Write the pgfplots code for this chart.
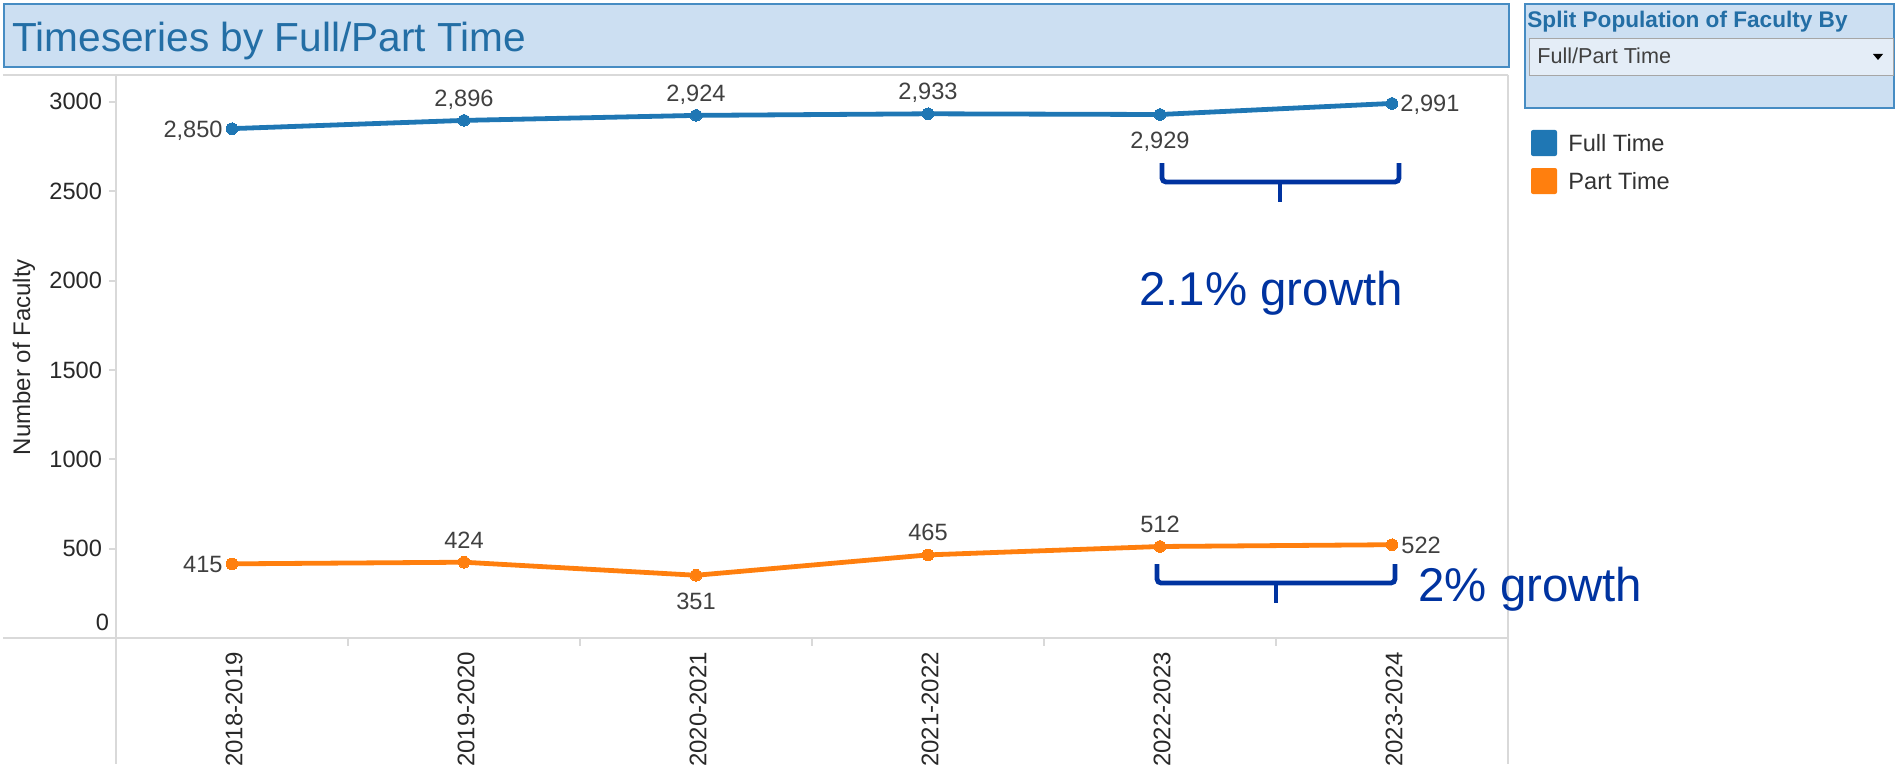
\documentclass[border=0pt]{standalone}
\usepackage{fontspec}
\setmainfont{Liberation Sans}
\usepackage{pgfplots}
\pgfplotsset{compat=1.18}
\definecolor{ftblue}{RGB}{31,119,180}
\definecolor{ptorange}{RGB}{255,127,14}
\definecolor{annblue}{RGB}{0,51,160}
\definecolor{titleblue}{RGB}{35,110,165}
\definecolor{boxfill}{RGB}{204,223,242}
\definecolor{boxline}{RGB}{70,140,195}
\definecolor{panegray}{RGB}{217,217,217}
\definecolor{lbl}{RGB}{64,64,64}
\definecolor{tickc}{RGB}{40,40,40}
\definecolor{ddfill}{RGB}{228,237,247}
\newcommand{\sm}{\fontsize{11.8}{14}\selectfont}
\tikzset{lab/.style={font=\sm, text=lbl, inner sep=0pt}}
\begin{document}
\begin{tikzpicture}
\begin{scope}[x=0.5pt,y=-0.5pt]
\path[use as bounding box] (0,0) rectangle (1895,781);
% title box
\draw[boxline, fill=boxfill, line width=1pt] (4,4) rectangle (1509,67);
\node[anchor=base west, inner sep=0, text=titleblue, font=\fontsize{20.3}{24}\selectfont] at (12,52) {Timeseries by Full/Part Time};
% filter box
\draw[boxline, fill=boxfill, line width=1pt] (1525,4) rectangle (1894,108);
\node[anchor=base west, inner sep=0, text=titleblue, font=\bfseries\fontsize{11.3}{13}\selectfont] at (1527,28) {Split Population of Faculty By};
\draw[black!35, fill=ddfill, line width=0.5pt] (1529,39) rectangle (1893,76);
\node[anchor=base west, inner sep=0, text=black!75, font=\fontsize{10.8}{13}\selectfont] at (1537,64) {Full/Part Time};
\fill[black] (1873,54) -- (1883,54) -- (1878,60) -- cycle;
% legend
\fill[ftblue, rounded corners=1pt] (1531,130) rectangle (1557,156);
\fill[ptorange, rounded corners=1pt] (1531,168) rectangle (1557,194);
\node[anchor=base west, inner sep=0, text=black!80, font=\sm] at (1568,151) {Full Time};
\node[anchor=base west, inner sep=0, text=black!80, font=\sm] at (1568,189) {Part Time};
% pane lines
\draw[panegray, line width=1pt] (3,75) -- (1508,75);
\draw[panegray, line width=1pt] (3,638) -- (1508,638);
\draw[panegray, line width=1pt] (116,75) -- (116,764);
\draw[panegray, line width=1pt] (1508,75) -- (1508,764);
\foreach \xx in {348,580,812,1044,1276} {\draw[panegray, line width=1pt] (\xx,638) -- (\xx,646);}
% y label
\node[rotate=90, text=tickc, font=\fontsize{12}{14}\selectfont] at (24,357) {Number of Faculty};
\end{scope}
\begin{axis}[
  at={(58pt,-319pt)}, anchor=south west, scale only axis,
  width=696pt, height=281.5pt,
  xmin=-0.5, xmax=5.5, ymin=0, ymax=3150,
  clip=false,
  axis line style={draw=none},
  xtick={0,...,5},
  xticklabels={2018-2019,2019-2020,2020-2021,2021-2022,2022-2023,2023-2024},
  xtick style={draw=none},
  ytick={500,1000,...,3000},
  extra y ticks={0},
  extra y tick style={major tick length=0pt, yticklabel style={yshift=8pt}},
  ytick pos=left, xtick pos=bottom,
  tick align=outside, major tick length=3.5pt,
  ytick style={panegray, line width=1pt},
  /pgf/number format/assume math mode=true,
  /pgf/number format/1000 sep={},
  yticklabel style={font=\sm, text=tickc},
  xticklabel style={rotate=90, anchor=east, font=\fontsize{12}{14}\selectfont, text=tickc, yshift=-1pt},
]
\addplot[ftblue, line width=2.4pt, mark=*, mark size=2.9pt, mark options={fill=ftblue, draw=ftblue, line width=0pt}]
  coordinates {(0,2850) (1,2896) (2,2924) (3,2933) (4,2929) (5,2991)};
\addplot[ptorange, line width=2.4pt, mark=*, mark size=2.9pt, mark options={fill=ptorange, draw=ptorange, line width=0pt}]
  coordinates {(0,415) (1,424) (2,351) (3,465) (4,512) (5,522)};
% Full time labels
\node[lab, anchor=base east, xshift=-4.5pt, yshift=-4.2pt] at (axis cs:0,2850) {2,850};
\node[lab, anchor=base, yshift=7pt] at (axis cs:1,2896) {2,896};
\node[lab, anchor=base, yshift=7pt] at (axis cs:2,2924) {2,924};
\node[lab, anchor=base, yshift=7pt] at (axis cs:3,2933) {2,933};
\node[lab, anchor=base, yshift=-17pt] at (axis cs:4,2929) {2,929};
\node[lab, anchor=base west, xshift=4pt, yshift=-4.2pt] at (axis cs:5,2991) {2,991};
% Part time labels
\node[lab, anchor=base east, xshift=-4.5pt, yshift=-4.2pt] at (axis cs:0,415) {415};
\node[lab, anchor=base, yshift=7pt] at (axis cs:1,424) {424};
\node[lab, anchor=base, yshift=-17pt] at (axis cs:2,351) {351};
\node[lab, anchor=base, yshift=7pt] at (axis cs:3,465) {465};
\node[lab, anchor=base, yshift=7pt] at (axis cs:4,512) {512};
\node[lab, anchor=base west, xshift=4.5pt, yshift=-4.2pt] at (axis cs:5,522) {522};
\end{axis}
\begin{scope}[x=0.5pt,y=-0.5pt]
% annotations
\draw[annblue, line width=2.4pt, rounded corners=2pt] (1162,163) -- (1162,182) -- (1399,182) -- (1399,163);
\draw[annblue, line width=2.4pt] (1280,182) -- (1280,202);
\node[anchor=base west, inner sep=0, text=annblue, font=\fontsize{23.7}{28}\selectfont] at (1139,305) {2.1\% growth};
\draw[annblue, line width=2.4pt, rounded corners=2pt] (1157,564) -- (1157,583) -- (1395,583) -- (1395,564);
\draw[annblue, line width=2.4pt] (1276,583) -- (1276,603);
\node[anchor=base west, inner sep=0, text=annblue, font=\fontsize{23.7}{28}\selectfont] at (1418,601) {2\% growth};
\end{scope}
\end{tikzpicture}
\end{document}
